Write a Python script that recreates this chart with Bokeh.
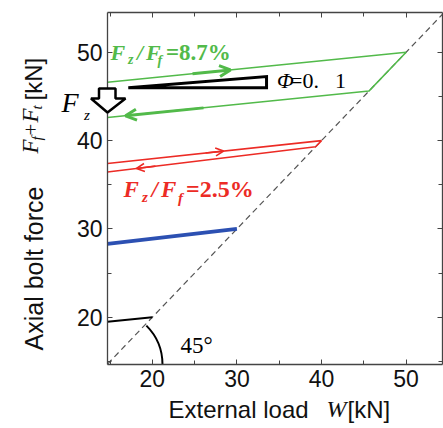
from math import pi
from bokeh.plotting import figure
from bokeh.models import (Range1d, LinearAxis, SingleIntervalTicker, Label, Arrow,
                          OpenHead, PolyAnnotation)
from bokeh.embed import file_html
from bokeh.resources import INLINE

# ---------------- data ----------------
tick_interval = 10
diag_w = [14.7, 54.3]
diag_f = [14.7, 54.3]
black_w = [14.7, 20.0]
black_f = [19.5, 20.0]
blue_w = [14.7, 30.0]
blue_f = [28.3, 30.0]
red_w = [14.7, 40.0, 39.3, 14.7]
red_f = [37.4, 40.0, 39.3, 36.45]
green_w = [14.7, 50.0, 45.6, 14.7]
green_f = [46.6, 50.0, 45.6, 42.6]
phi_w = [17.16, 33.5, 33.5]
phi_f = [45.98, 45.98, 47.25]
red_arrows = [(26.3, 28.42, 0), (20.37, 18.13, 2)]     # (start W, tip W, segment index)
green_arrows = [(24.75, 29.24, 0), (26.05, 16.83, 2)]

GREEN = "#52BA4A"
RED = "#EC2B25"
BLUE = "#2C50B2"
AX = "#444444"
TXT = "#111111"

# plot box (data) and its place on the 443x428 canvas (reference pixels 107..442 x 12..364)
X0, X1 = 14.7, 54.3
Y0, Y1 = 14.65, 54.5
KX = (X1 - X0) / 335.0
KY = (Y1 - Y0) / 352.0
XS, XE = X0 - 107 * KX, X0 + (443 - 107) * KX
YE, YS = Y1 + 12 * KY, Y1 - (428 - 12) * KY

def px2x(rx):
    return XS + rx * KX

def px2y(ry):
    return YE - ry * KY

p = figure(width=443, height=428, x_range=Range1d(XS, XE), y_range=Range1d(YS, YE),
           output_backend="svg", toolbar_location=None,
           min_border=0, min_border_left=0, min_border_right=0,
           min_border_top=0, min_border_bottom=0)
p.xgrid.visible = False
p.ygrid.visible = False
p.outline_line_color = None
p.background_fill_color = "white"
p.border_fill_color = "white"

def style_axis(ax, show_labels=True):
    ax.ticker = SingleIntervalTicker(interval=tick_interval, num_minor_ticks=2)
    ax.major_tick_in = 5
    ax.major_tick_out = 0
    ax.minor_tick_in = 4
    ax.minor_tick_out = 0
    ax.axis_line_color = AX
    ax.axis_line_width = 1.3
    ax.major_tick_line_color = AX
    ax.minor_tick_line_color = AX
    ax.major_label_text_font = "Liberation Sans"
    ax.major_label_text_font_size = "23px"
    ax.major_label_text_color = TXT
    ax.major_label_standoff = 5
    if not show_labels:
        ax.major_label_overrides = {v: "" for v in range(0, 70, 10)}

xa = p.xaxis[0]
ya = p.yaxis[0]
style_axis(xa)
style_axis(ya)
xa.fixed_location = Y0
xa.bounds = (X0, X1)
ya.fixed_location = X0
ya.bounds = (Y0, Y1)

ra = LinearAxis(fixed_location=X1, bounds=(Y0, Y1))
style_axis(ra, show_labels=False)
p.add_layout(ra, "right")
ta = LinearAxis(fixed_location=Y1, bounds=(X0, X1))
style_axis(ta, show_labels=False)
p.add_layout(ta, "above")

# 45 deg reference line
p.line(diag_w, diag_f, line_color="#555555", line_width=1.2, line_dash="6 4")

# arc showing 45 deg
p.arc(x=[X0], y=[Y0], radius=6.5, start_angle=0, end_angle=pi / 4,
      line_color="black", line_width=2)

p.line(black_w, black_f, line_color="black", line_width=2)
p.line(blue_w, blue_f, line_color=BLUE, line_width=3.8)
p.line(red_w, red_f, line_color=RED, line_width=1.6)
p.line(green_w, green_f, line_color=GREEN, line_width=1.5)

# slope triangle
p.patch(phi_w, phi_f, fill_color="white", line_color="black", line_width=3, line_join="miter")

def seg_y(ws, fs, idx, w):
    a, b = ws[idx], ws[idx + 1]
    fa, fb = fs[idx], fs[idx + 1]
    return fa + (w - a) / (b - a) * (fb - fa)

for (w0, w1, idx) in red_arrows:
    p.add_layout(Arrow(end=OpenHead(size=8, line_color=RED, line_width=1.6),
                       x_start=w0, y_start=seg_y(red_w, red_f, idx, w0),
                       x_end=w1, y_end=seg_y(red_w, red_f, idx, w1),
                       line_color=RED, line_width=1.6))
for (w0, w1, idx) in green_arrows:
    p.add_layout(Arrow(end=OpenHead(size=11, line_color=GREEN, line_width=3),
                       x_start=w0, y_start=seg_y(green_w, green_f, idx, w0),
                       x_end=w1, y_end=seg_y(green_w, green_f, idx, w1),
                       line_color=GREEN, line_width=3))

# hollow down arrow (F_z)
arr_rx = [98.5, 115, 115, 125, 107, 90.5, 98.5]
arr_ry = [88, 88, 98, 98, 112, 98, 98]
p.add_layout(PolyAnnotation(xs=[px2x(v) for v in arr_rx], ys=[px2y(v) for v in arr_ry],
                            fill_color="white", fill_alpha=1.0, line_color="black",
                            line_alpha=1.0, line_width=2.5))

MID = 0.345  # baseline -> middle of the text box, in em

def put(text, rx, ry, size, color="black", font="Liberation Serif", style="normal", angle=0.0):
    # (rx, ry) = start of the text on its baseline, in reference pixels
    if angle:
        ax_, ay_ = rx - MID * size, ry
    else:
        ax_, ay_ = rx, ry - MID * size
    p.add_layout(Label(x=px2x(ax_), y=px2y(ay_), text=text, text_font=font,
                       text_font_size=f"{size}px", text_font_style=style,
                       text_color=color, text_align="left", text_baseline="middle",
                       angle=angle))

# Fz / Ff = 8.7%
put("F", 110, 59.5, 22, GREEN, style="bold italic")
put("z", 127.5, 64, 14, GREEN, style="bold italic")
put("/", 136.5, 59.5, 22, GREEN, style="bold italic")
put("F", 145.5, 59.5, 22, GREEN, style="bold italic")
put("f", 157, 65, 14, GREEN, style="bold italic")
put("=8.7%", 165.5, 59.5, 23, GREEN, style="bold")

# Fz / Ff = 2.5%
put("F", 123, 196.5, 23, RED, style="bold italic")
put("z", 141.5, 201.5, 15, RED, style="bold italic")
put("/", 151, 196.5, 23, RED, style="bold italic")
put("F", 160.5, 196.5, 23, RED, style="bold italic")
put("f", 177.5, 203, 15, RED, style="bold italic")
put("=2.5%", 185.5, 196.5, 24, RED, style="bold")

# Phi = 0.1
put("\u03a6", 276.5, 88, 22, "black", style="italic")
put("=0.", 289.5, 88, 22, "black")
put("1", 334.5, 88, 22, "black")

# 45 deg
put("45\u00b0", 180, 353, 23, "black")

# F_z by the arrow
put("F", 61, 112, 28, "black", style="italic")
put("z", 83.5, 120, 15, "black", style="italic")

# x axis label
put("External load", 168, 417, 24, TXT, font="Liberation Sans")
put("W", 326, 417, 24, TXT, style="italic")
put("[kN]", 347, 417, 24, TXT, font="Liberation Sans")

# y axis label (rotated)
R = pi / 2
put("Axial bolt force", 42, 350, 25, TXT, font="Liberation Sans", angle=R)
put("F", 37.5, 153, 23, TXT, style="italic", angle=R)
put("f", 41.5, 140, 15, TXT, style="italic", angle=R)
put("+", 37.5, 135, 21, TXT, angle=R)
put("F", 37.5, 122, 23, TXT, style="italic", angle=R)
put("t", 41.5, 109, 15, TXT, style="italic", angle=R)
put("[kN]", 41.7, 100, 24, TXT, font="Liberation Sans", angle=R)

open("out.html", "w").write(file_html(p, INLINE))
